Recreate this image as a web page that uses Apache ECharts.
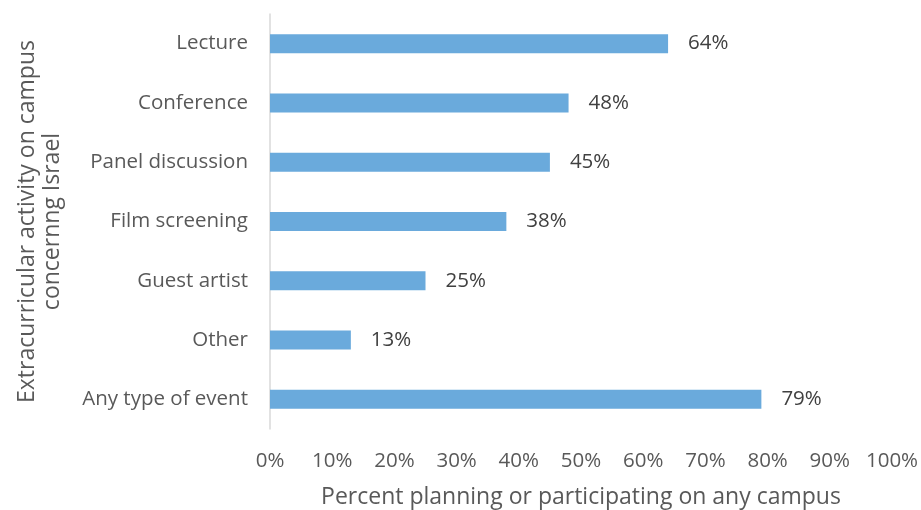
<!DOCTYPE html>
<html>
<head>
<meta charset="utf-8">
<script src="https://cdn.jsdelivr.net/npm/echarts@6/dist/echarts.min.js"></script>
<style>html,body{margin:0;padding:0;background:#fff}#c{width:921px;height:510px}</style>
</head>
<body>
<div id="c"></div>
<script>
const categories = ['Lecture', 'Conference', 'Panel discussion', 'Film screening', 'Guest artist', 'Other', 'Any type of event'];
const values = [64, 48, 45, 38, 25, 13, 79];
const xTicks = [0, 10, 20, 30, 40, 50, 60, 70, 80, 90, 100];

const FONT = '"Open Sans", "Noto Sans", sans-serif';
const chart = echarts.init(document.getElementById('c'), null, {renderer: 'canvas'});
chart.setOption({
  animation: false,
  textStyle: {fontFamily: FONT},
  grid: {left: 270, right: 29, top: 14, bottom: 81, containLabel: false, outerBoundsMode: 'none'},
  xAxis: {
    type: 'value',
    min: xTicks[0], max: xTicks[xTicks.length - 1], interval: 10,
    axisLine: {show: false},
    axisTick: {show: false},
    splitLine: {show: false},
    axisLabel: {formatter: '{value}%', color: '#595959', fontSize: 20.5, margin: 22, fontFamily: FONT},
    name: 'Percent planning or participating on any campus',
    nameLocation: 'middle',
    nameGap: 57,
    nameTextStyle: {color: '#595959', fontSize: 23, fontFamily: FONT}
  },
  yAxis: {
    type: 'category',
    data: categories,
    inverse: true,
    axisLine: {show: true, lineStyle: {color: '#d9d9d9', width: 1.5}},
    axisTick: {show: false},
    axisLabel: {color: '#595959', fontSize: 20.5, margin: 22, fontFamily: FONT},
    name: 'Extracurricular activity on campus\nconcernng Israel',
    nameLocation: 'middle',
    nameRotate: 90,
    nameGap: 205,
    nameTextStyle: {color: '#595959', fontSize: 23, lineHeight: 25, fontFamily: FONT}
  },
  series: [{
    type: 'bar',
    data: values,
    barWidth: 19,
    itemStyle: {color: '#6aaadc'},
    label: {show: true, position: 'right', distance: 20, formatter: '{c}%', color: '#404040', fontSize: 20.5, fontFamily: FONT}
  }]
});
</script>
</body>
</html>
